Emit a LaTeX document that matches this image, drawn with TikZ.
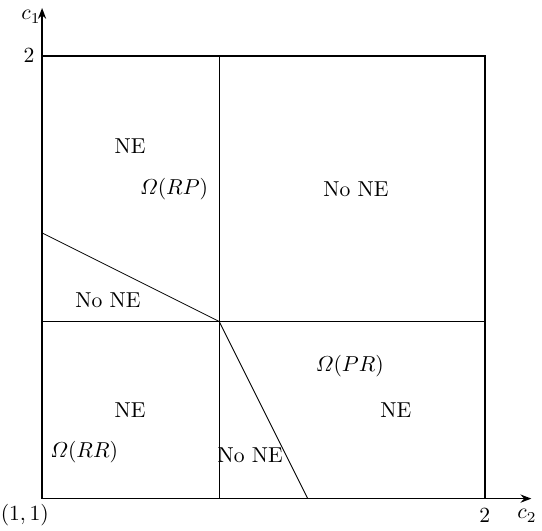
\documentclass[tikz,border=0pt]{standalone}
\usepackage{amsmath}
\usepackage{tikz}
\usetikzlibrary{arrows.meta,positioning}
\newcommand{\Reg}[1]{\varOmega(#1)}

\begin{document}
\begin{tikzpicture}[x=7.2cm,y=7.2cm]
        \useasboundingbox (0.905,0.928) rectangle (2.129,2.126);
        \coordinate (O) at (1,1);
        \coordinate (xtip) at (2.105,1);
        \coordinate (ytip) at (1,2.108);
        \coordinate (tl) at (1,2);
        \coordinate (tr) at (2,2);
        \coordinate (br) at (2,1);
        \coordinate (mid) at (1.4,1.4);
        \coordinate (mtop) at (1.4,2);
        \coordinate (mbot) at (1.4,1);
        \coordinate (mleft) at (1,1.4);
        \coordinate (mright) at (2,1.4);
        \coordinate (dleft) at (1,1.6);
        \coordinate (dbot) at (1.6,1);
        \draw[thick,-{Stealth[length=5pt]}] (O) -- (xtip);
        \draw[thick,-{Stealth[length=5pt]}] (O) -- (ytip);
        \draw[thick] (tl) -- (tr) -- (br);
        \draw (mtop) -- (mbot);
        \draw (mleft) -- (mright);
        \draw (dleft) -- (mid) -- (dbot);
        \node (lc2) at (2.095,0.961) {$c_2$};
        \node (lc1) at (0.975,2.088) {$c_1$};
        \node[left=0pt] (ty) at (tl) {$2$};
        \node[below=1pt] (tx) at (br) {$2$};
        \node (to) at (0.961,0.962) {$(1,1)$};
        \node (ne1) at (1.199,1.795) {NE};
        \node (rp) at (1.298,1.698) {$\Reg{RP}$};
        \node (no1) at (1.709,1.698) {No NE};
        \node (no2) at (1.149,1.449) {No NE};
        \node (pr) at (1.695,1.300) {$\Reg{PR}$};
        \node (ne2) at (1.799,1.199) {NE};
        \node (ne3) at (1.199,1.199) {NE};
        \node (rr) at (1.095,1.104) {$\Reg{RR}$};
        \node (no3) at (1.470,1.097) {No NE};
      \end{tikzpicture}
\end{document}
